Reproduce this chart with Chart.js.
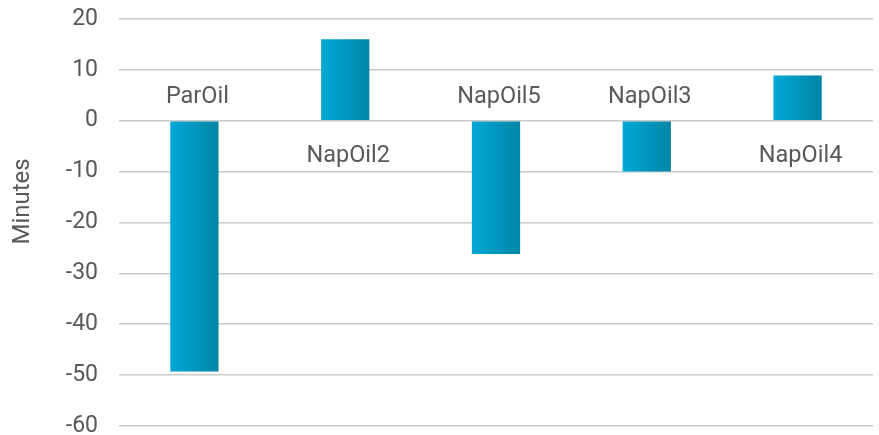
<!DOCTYPE html>
<html>
<head>
<meta charset="utf-8">
<script src="https://cdn.jsdelivr.net/npm/chart.js@4/dist/chart.umd.min.js"></script>
<style>
  html, body { margin: 0; padding: 0; background: #fff; }
  #wrap { width: 879px; height: 435px; }
</style>
</head>
<body>
<div id="wrap"><canvas id="chart" width="879" height="435"></canvas></div>
<script>
const categories = ['ParOil', 'NapOil2', 'NapOil5', 'NapOil3', 'NapOil4'];
const minutes = [-49.3, 16, -26.2, -10, 8.9];
const yTicks = [20, 10, 0, -10, -20, -30, -40, -50, -60];
const yTitle = 'Minutes';

const textColor = '#595959';
const gridColor = '#c9c9c9';
const barPct = 0.32;

// bar fill: light blue on the left to darker teal on the right
const barFill = (context) => {
    const chart = context.chart;
    const x = chart.scales.x;
    if (!x || x.width === undefined || context.dataIndex === undefined) return '#009ac4';
    const w = (x.width / categories.length) * barPct;
    const x0 = x.getPixelForValue(context.dataIndex) - w / 2;
    const g = chart.ctx.createLinearGradient(x0, 0, x0 + w, 0);
    g.addColorStop(0, '#00a8d6');
    g.addColorStop(1, '#0085a6');
    return g;
};

// category names sit next to the zero line, on the opposite side of the bar
const zeroLabels = {
    id: 'zeroLabels',
    afterDatasetsDraw(chart) {
        const { ctx, scales, chartArea } = chart;
        const zero = scales.y.getPixelForValue(0);
        ctx.save();
        ctx.font = '23.5px Roboto';
        ctx.fillStyle = textColor;
        ctx.textAlign = 'center';
        ctx.textBaseline = 'alphabetic';
        categories.forEach((name, i) => {
            const x = scales.x.getPixelForValue(i) + 3;
            const y = minutes[i] < 0 ? zero - 18 : zero + 41;
            ctx.fillText(name, x, y);
        });
        // axis title, a bit above the middle like the original
        ctx.font = '24px Roboto';
        ctx.textBaseline = 'middle';
        ctx.translate(23, (chartArea.top + chartArea.bottom) / 2 - 21);
        ctx.rotate(-Math.PI / 2);
        ctx.fillText(yTitle, 0, 0);
        ctx.restore();
    }
};

new Chart(document.getElementById('chart'), {
    type: 'bar',
    data: {
        labels: categories,
        datasets: [{
            data: minutes,
            backgroundColor: barFill,
            borderWidth: 0,
            barPercentage: barPct,
            categoryPercentage: 1
        }]
    },
    options: {
        responsive: false,
        animation: false,
        layout: { padding: { top: 19, right: 6, bottom: 8, left: 0 } },
        plugins: { legend: { display: false }, tooltip: { enabled: false } },
        scales: {
            x: { display: false },
            y: {
                min: -60,
                max: 20,
                afterFit: s => { s.width = 119; },
                afterBuildTicks: s => { s.ticks = yTicks.map(v => ({ value: v })); },
                ticks: { color: textColor, font: { family: 'Roboto', size: 23, lineHeight: 0.8 }, padding: 0 },
                grid: { color: gridColor, lineWidth: 1.5, drawTicks: true, tickLength: 21, tickColor: 'rgba(0,0,0,0)' },
                border: { display: false }
            }
        }
    },
    plugins: [zeroLabels]
});
</script>
</body>
</html>
